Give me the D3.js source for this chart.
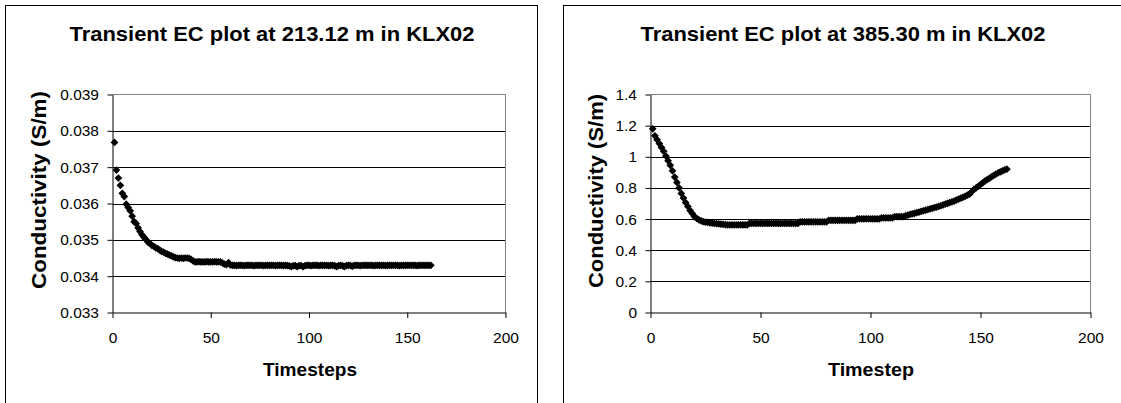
<!DOCTYPE html>
<html>
<head>
<meta charset="utf-8">
<script src="https://cdn.jsdelivr.net/npm/d3@7"></script>
<style>
  html, body { margin: 0; padding: 0; background: #fff; }
  svg { display: block; }
  text { font-family: "Liberation Sans", Arial, sans-serif; fill: #000; }
</style>
</head>
<body>
<svg id="chart" width="1121" height="403"></svg>
<script>
// Transient EC logs in borehole KLX02, one value per timestep (steps 1..162)
const titleLeft = "Transient EC plot at 213.12 m in KLX02";
const titleRight = "Transient EC plot at 385.30 m in KLX02";
const xLabelLeft = "Timesteps";
const xLabelRight = "Timestep";
const yLabel = "Conductivity (S/m)";

const xTicks = [0, 50, 100, 150, 200];
const xTickLabels = ["0", "50", "100", "150", "200"];
const yTicksLeft = [0.033, 0.034, 0.035, 0.036, 0.037, 0.038, 0.039];
const yTickLabelsLeft = ["0.033", "0.034", "0.035", "0.036", "0.037", "0.038", "0.039"];
const yTicksRight = [0, 0.2, 0.4, 0.6, 0.8, 1.0, 1.2, 1.4];
const yTickLabelsRight = ["0", "0.2", "0.4", "0.6", "0.8", "1", "1.2", "1.4"];

// Conductivity at 213.12 m (S/m)
const ecAt213 = [
  0.03768, 0.03692, 0.03670, 0.03650, 0.03628, 0.03619, 0.03598, 0.03589, 0.03580, 0.03565,
  0.03550, 0.03545, 0.03533, 0.03523, 0.03514, 0.03507, 0.03501, 0.03494, 0.03490, 0.03485,
  0.03482, 0.03478, 0.03476, 0.03472, 0.03468, 0.03466, 0.03463, 0.03461, 0.03458, 0.03456,
  0.03453, 0.03451, 0.03450, 0.03449, 0.03450, 0.03449, 0.03450, 0.03450, 0.03449, 0.03446,
  0.03442, 0.03439, 0.03439, 0.03440, 0.03439, 0.03439, 0.03439, 0.03440, 0.03439, 0.03439,
  0.03439, 0.03440, 0.03439, 0.03439, 0.03439, 0.03436, 0.03433, 0.03432, 0.03437, 0.03431,
  0.03430, 0.03430, 0.03429, 0.03430, 0.03430, 0.03430, 0.03429, 0.03430, 0.03430, 0.03430,
  0.03430, 0.03429, 0.03430, 0.03430, 0.03430, 0.03430, 0.03429, 0.03430, 0.03430, 0.03430,
  0.03430, 0.03430, 0.03429, 0.03430, 0.03430, 0.03430, 0.03429, 0.03430, 0.03429, 0.03428,
  0.03426, 0.03429, 0.03429, 0.03426, 0.03429, 0.03429, 0.03426, 0.03429, 0.03430, 0.03430,
  0.03429, 0.03430, 0.03430, 0.03430, 0.03429, 0.03430, 0.03430, 0.03430, 0.03430, 0.03429,
  0.03430, 0.03430, 0.03429, 0.03426, 0.03429, 0.03430, 0.03429, 0.03426, 0.03429, 0.03430,
  0.03430, 0.03427, 0.03430, 0.03430, 0.03430, 0.03429, 0.03430, 0.03430, 0.03430, 0.03430,
  0.03430, 0.03430, 0.03429, 0.03430, 0.03430, 0.03430, 0.03430, 0.03430, 0.03429, 0.03430,
  0.03430, 0.03430, 0.03430, 0.03430, 0.03430, 0.03429, 0.03430, 0.03430, 0.03430, 0.03430,
  0.03430, 0.03430, 0.03430, 0.03430, 0.03429, 0.03430, 0.03430, 0.03430, 0.03430, 0.03430,
  0.03430, 0.03430
];

// Conductivity at 385.30 m (S/m)
const ecAt385 = [
  1.180, 1.135, 1.110, 1.085, 1.060, 1.035, 1.005, 0.975, 0.945, 0.910,
  0.870, 0.835, 0.800, 0.765, 0.735, 0.705, 0.680, 0.655, 0.635, 0.615,
  0.605, 0.595, 0.588, 0.583, 0.580, 0.578, 0.576, 0.574, 0.572, 0.570,
  0.569, 0.567, 0.566, 0.565, 0.563, 0.563, 0.563, 0.563, 0.563, 0.563,
  0.563, 0.563, 0.563, 0.563, 0.572, 0.572, 0.572, 0.572, 0.572, 0.572,
  0.572, 0.572, 0.572, 0.572, 0.572, 0.572, 0.572, 0.572, 0.572, 0.572,
  0.572, 0.572, 0.572, 0.572, 0.572, 0.572, 0.572, 0.582, 0.582, 0.582,
  0.582, 0.582, 0.582, 0.582, 0.582, 0.582, 0.582, 0.582, 0.582, 0.582,
  0.592, 0.592, 0.592, 0.592, 0.592, 0.592, 0.592, 0.592, 0.592, 0.592,
  0.592, 0.592, 0.592, 0.602, 0.602, 0.602, 0.602, 0.602, 0.602, 0.602,
  0.602, 0.602, 0.602, 0.602, 0.607, 0.607, 0.607, 0.607, 0.607, 0.607,
  0.615, 0.615, 0.615, 0.615, 0.615, 0.622, 0.626, 0.630, 0.633, 0.637,
  0.641, 0.645, 0.649, 0.653, 0.657, 0.661, 0.665, 0.669, 0.673, 0.677,
  0.681, 0.686, 0.691, 0.696, 0.701, 0.706, 0.711, 0.716, 0.722, 0.728,
  0.734, 0.740, 0.746, 0.753, 0.760, 0.775, 0.790, 0.800, 0.810, 0.822,
  0.833, 0.843, 0.853, 0.862, 0.871, 0.880, 0.888, 0.896, 0.903, 0.910,
  0.916, 0.920
];

const timesteps = d3.range(1, ecAt213.length + 1);

const svg = d3.select("#chart");

function drawPanel(cfg) {
  const g = svg.append("g");

  // chart frame
  g.append("rect")
    .attr("x", cfg.frame[0]).attr("y", cfg.frame[1])
    .attr("width", cfg.frame[2]).attr("height", cfg.frame[3])
    .attr("fill", "#fff").attr("stroke", "#000").attr("stroke-width", 1);

  const x = d3.scaleLinear().domain([0, 200]).range(cfg.xRange);
  const y = d3.scaleLinear().domain(cfg.yDomain).range(cfg.yRange);

  // horizontal gridlines
  g.append("g").selectAll("line")
    .data(cfg.yTicks.slice(1, -1))
    .join("line")
    .attr("x1", cfg.xRange[0]).attr("x2", cfg.xRange[1])
    .attr("y1", d => Math.round(y(d)) + 0.5).attr("y2", d => Math.round(y(d)) + 0.5)
    .attr("stroke", "#000").attr("stroke-width", 1);

  // plot-area border (top and right edges show grey)
  g.append("path")
    .attr("d", `M${cfg.xRange[0]},${cfg.yRange[1]}H${cfg.xRange[1]}V${cfg.yRange[0]}`)
    .attr("fill", "none").attr("stroke", "#808080").attr("stroke-width", 1);

  const fmtY = d => cfg.yTickLabels[cfg.yTicks.indexOf(d)];
  const fmtX = d => xTickLabels[xTicks.indexOf(d)];

  const yAxis = g.append("g")
    .attr("transform", `translate(${cfg.xRange[0]},0)`)
    .call(d3.axisLeft(y).tickValues(cfg.yTicks).tickFormat(fmtY)
      .tickSize(5).tickSizeOuter(0).tickPadding(8.5));
  yAxis.selectAll("text")
    .attr("font-family", "Liberation Sans, Arial, sans-serif")
    .attr("font-size", "15.5px").attr("fill", "#000");

  const xAxis = g.append("g")
    .attr("transform", `translate(0,${cfg.yRange[0]})`)
    .call(d3.axisBottom(x).tickValues(xTicks).tickFormat(fmtX)
      .tickSize(5.5).tickSizeOuter(0).tickPadding(13.5));
  xAxis.selectAll("text")
    .attr("font-family", "Liberation Sans, Arial, sans-serif")
    .attr("font-size", "15.5px").attr("fill", "#000");

  [yAxis, xAxis].forEach(a => {
    a.selectAll("path, line").attr("stroke", "#000").attr("stroke-width", 1);
  });

  // data markers: filled diamonds
  const diamond = d3.symbol(d3.symbolSquare, 30)();
  g.append("g").selectAll("path")
    .data(cfg.values.map((v, i) => [timesteps[i], v]))
    .join("path")
    .attr("d", diamond)
    .attr("transform", d => `translate(${x(d[0])},${y(d[1])}) rotate(45)`)
    .attr("fill", "#000");

  // titles
  g.append("text")
    .attr("x", cfg.titleX).attr("y", 40.5)
    .attr("text-anchor", "middle")
    .attr("font-size", "20.5px").attr("font-weight", "bold")
    .attr("textLength", 405).attr("lengthAdjust", "spacingAndGlyphs")
    .text(cfg.title);

  g.append("text")
    .attr("transform", `translate(${cfg.yLabelX},${cfg.yLabelY}) rotate(-90)`)
    .attr("text-anchor", "middle")
    .attr("font-size", "20px").attr("font-weight", "bold")
    .attr("textLength", cfg.yLabelLen).attr("lengthAdjust", "spacingAndGlyphs")
    .text(yLabel);

  g.append("text")
    .attr("x", cfg.xLabelX).attr("y", 376)
    .attr("text-anchor", "middle")
    .attr("font-size", "18px").attr("font-weight", "bold")
    .attr("textLength", cfg.xLabelLen).attr("lengthAdjust", "spacingAndGlyphs")
    .text(cfg.xLabel);
}

drawPanel({
  frame: [5.5, 5.5, 532, 430],
  xRange: [112.5, 505.5],
  yRange: [312.5, 94.5],
  yDomain: [0.033, 0.039],
  yTicks: yTicksLeft,
  yTickLabels: yTickLabelsLeft,
  values: ecAt213,
  title: titleLeft,
  titleX: 272,
  yLabelX: 46, yLabelY: 190, yLabelLen: 198,
  xLabel: xLabelLeft, xLabelX: 310, xLabelLen: 94
});

drawPanel({
  frame: [563.5, 5.5, 620, 430],
  xRange: [650.5, 1090.5],
  yRange: [312.5, 94.5],
  yDomain: [0, 1.4],
  yTicks: yTicksRight,
  yTickLabels: yTickLabelsRight,
  values: ecAt385,
  title: titleRight,
  titleX: 843,
  yLabelX: 602.5, yLabelY: 191, yLabelLen: 194,
  xLabel: xLabelRight, xLabelX: 871, xLabelLen: 86
});
</script>
</body>
</html>
